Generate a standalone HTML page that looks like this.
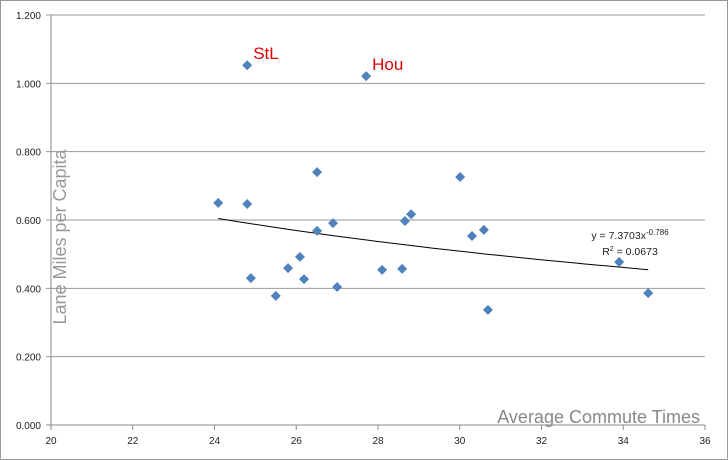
<!DOCTYPE html>
<html><head><meta charset="utf-8"><style>
body{margin:0;background:#fff}
svg{display:block;font-family:"Liberation Sans",sans-serif}
</style></head><body>
<svg id="chart" width="728" height="460" viewBox="0 0 728 460">
<rect x="0.5" y="0.5" width="727" height="459" fill="#fff" stroke="#999"/>
<g id="grid"></g><g id="axes"></g><g id="marks"></g>
</svg>
<script>
const xTicks=[20,22,24,26,28,30,32,34,36];
const yTicks=[0,0.2,0.4,0.6,0.8,1.0,1.2];
const xVals=[24.09,24.80,24.80,24.89,25.50,25.80,26.09,26.19,26.51,26.51,26.90,27.00,27.71,28.10,28.59,28.66,28.81,30.01,30.30,30.59,30.69,33.90,34.61];
const yVals=[0.650,1.053,0.647,0.430,0.378,0.459,0.492,0.427,0.740,0.568,0.591,0.404,1.021,0.454,0.457,0.597,0.617,0.726,0.553,0.571,0.337,0.477,0.386];
const labels=[{t:"StL",i:1},{t:"Hou",i:12}];
const trendA=7.3703, trendB=-0.786;
const L=51,R=705,T=15,B=425;
const sx=v=>L+(v-20)/(36-20)*(R-L);
const sy=v=>B-v/1.2*(B-T);
const NS="http://www.w3.org/2000/svg";
function mk(tag,attrs,parent,text){const e=document.createElementNS(NS,tag);for(const k in attrs)e.setAttribute(k,attrs[k]);if(text!==undefined)e.textContent=text;document.getElementById(parent).appendChild(e);return e;}
yTicks.forEach(v=>{
  const g=mk('line',{x1:L-5,x2:R,y1:sy(v),y2:sy(v),stroke:v===0?'#888':'#999','stroke-width':1},'grid');
  
  
  const t=mk('text',{x:L-10,y:sy(v)+4,'text-anchor':'end','font-size':10,fill:'#222'},'axes',v.toFixed(3));
  
  
});
xTicks.forEach(v=>{
  const l=mk('line',{x1:sx(v),x2:sx(v),y1:B,y2:B+5,stroke:'#888'},'axes');
  
  
  const t=mk('text',{x:sx(v),y:B+19,'text-anchor':'middle','font-size':10,fill:'#222'},'axes',String(v));
  
  
});
const ya=mk('line',{x1:L,x2:L,y1:T,y2:B,stroke:'#888'},'axes');


const yt=mk('text',{transform:'translate(66,237) rotate(-90)','text-anchor':'middle','font-size':18,fill:'#999'},'axes','Lane Miles per Capita');


const xt=mk('text',{x:700,y:423,'text-anchor':'end','font-size':18,fill:'#888'},'axes','Average Commute Times');


const x0=Math.min(...xVals),x1=Math.max(...xVals);let d='';
for(let i=0;i<=40;i++){const x=x0+(x1-x0)*i/40;const y=trendA*Math.pow(x,trendB);d+=(i?'L':'M')+sx(x).toFixed(1)+','+sy(y).toFixed(1);}
const tl=mk('path',{d:d,fill:'none',stroke:'#000','stroke-width':1},'marks');


const eq=mk('text',{x:630,y:239,'text-anchor':'middle','font-size':10.5,fill:'#222'},'marks');


eq.innerHTML='y = 7.3703x<tspan dy="-4" font-size="8">-0.786</tspan>';
const r2=mk('text',{x:630,y:255,'text-anchor':'middle','font-size':10.5,fill:'#222'},'marks');


r2.innerHTML='R<tspan dy="-4" font-size="7">2</tspan><tspan dy="4"> = 0.0673</tspan>';
xVals.forEach((x,i)=>{
  const cx=sx(x),cy=sy(yVals[i]);
  const p=mk('polygon',{points:`${cx},${cy-5} ${cx+5},${cy} ${cx},${cy+5} ${cx-5},${cy}`,fill:'#4f81bd'},'marks');
  
  
});
labels.forEach(o=>{
  const t=mk('text',{x:sx(xVals[o.i])+6,y:sy(yVals[o.i])-6,'font-size':17,fill:'#e00000'},'marks',o.t);
  
  
});
</script>
</body></html>
